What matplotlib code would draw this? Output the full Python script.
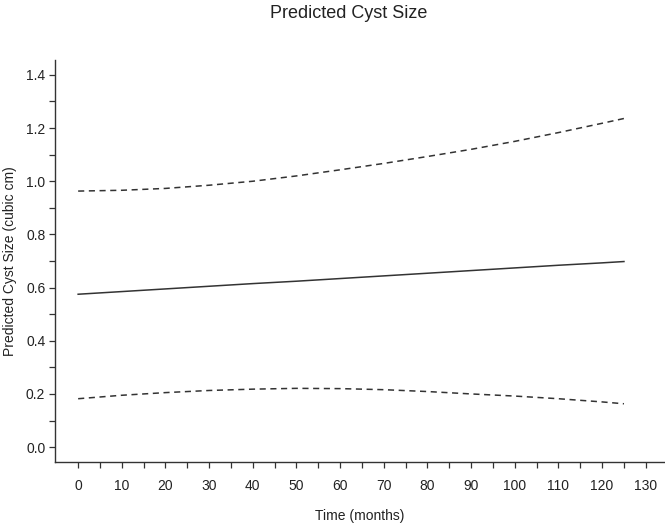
import matplotlib
matplotlib.use('Agg')
import matplotlib.pyplot as plt
from matplotlib.ticker import MultipleLocator, FixedLocator, FormatStrFormatter

plt.rcParams['font.family'] = ['Liberation Sans', 'DejaVu Sans']

# values
months = [0, 10, 20, 30, 40, 50, 60, 70, 80, 90, 100, 110, 120, 125]
predicted = [0.575, 0.585, 0.595, 0.605, 0.615, 0.624, 0.634, 0.644, 0.654,
             0.664, 0.674, 0.684, 0.693, 0.698]
upper = [0.963, 0.966, 0.973, 0.985, 1.000, 1.020, 1.043, 1.067, 1.093,
         1.120, 1.150, 1.183, 1.218, 1.236]
lower = [0.182, 0.195, 0.205, 0.213, 0.218, 0.221, 0.220, 0.216, 0.209,
         0.200, 0.192, 0.182, 0.170, 0.163]
x_minor = [5, 15, 25, 35, 45, 55, 65, 75, 85, 95, 105, 115, 125]

ink = '#333333'
txt = '#222222'

fig = plt.figure(figsize=(6.65, 5.24), dpi=100)
ax = fig.add_axes([55/665, 1-462/524, 1-55/665, (462-60)/524])

ax.plot(months, predicted, color=ink, lw=1.1, ls='-')
ax.plot(months, upper, color=ink, lw=1.1, ls=(0, (4, 3)))
ax.plot(months, lower, color=ink, lw=1.1, ls=(0, (4, 3)))

ax.set_xlim(-5.3, 134.4)
ax.set_ylim(-0.056, 1.456)
ax.xaxis.set_major_locator(MultipleLocator(10))
ax.xaxis.set_minor_locator(FixedLocator(x_minor))
ax.yaxis.set_major_locator(MultipleLocator(0.2))
ax.yaxis.set_minor_locator(MultipleLocator(0.1))
ax.yaxis.set_major_formatter(FormatStrFormatter('%.1f'))

for s in ['top', 'right']:
    ax.spines[s].set_visible(False)
for s in ['left', 'bottom']:
    ax.spines[s].set_color(ink)
    ax.spines[s].set_linewidth(1.0)

ax.tick_params(which='both', direction='out', length=4, width=0.9, color=ink,
               labelcolor=txt, labelsize=10)
ax.tick_params(axis='x', which='both', pad=8)
ax.tick_params(axis='y', which='both', pad=3)

ax.set_xlabel('Time (months)', fontsize=10, color=txt)
ax.set_ylabel('Predicted Cyst Size (cubic cm)', fontsize=10, color=txt, va='center')
ax.xaxis.set_label_coords(0.5, -0.117)
ax.yaxis.set_label_coords(-0.074, 0.5)

fig.text(349/665, 1-14/524, 'Predicted Cyst Size', ha='center', va='center',
         fontsize=13, color=txt)

fig.savefig('out.png', dpi=100, facecolor='white')
